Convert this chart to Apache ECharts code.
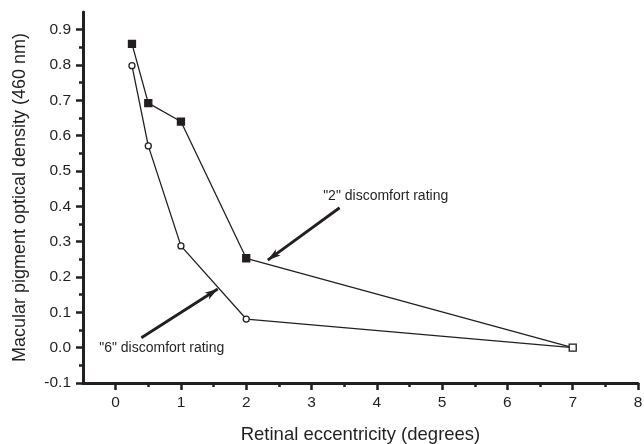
<!DOCTYPE html>
<html>
<head>
<meta charset="utf-8">
<script src="https://cdn.jsdelivr.net/npm/echarts@6/dist/echarts.min.js"></script>
<style>
  html, body { margin: 0; padding: 0; background: #fff; }
  #chart { width: 644px; height: 444px; }
</style>
</head>
<body>
<div id="chart"></div>
<script>
// eccentricity (degrees)
const eccentricity = [0.25, 0.5, 1, 2, 7]
// optical density for the two ratings
const rating2 = [0.86, 0.692, 0.64, 0.253, 0.0]
const rating6 = [0.798, 0.571, 0.288, 0.081, 0.0]

const xMajorTicks = [0, 1, 2, 3, 4, 5, 6, 7, 8]
const xMinorTicks = [0.5, 1.5, 2.5, 3.5, 4.5, 5.5, 6.5, 7.5]
const yMajorTicks = [-0.1, 0, 0.1, 0.2, 0.3, 0.4, 0.5, 0.6, 0.7, 0.8, 0.9]
const yMinorTicks = [-0.05, 0.05, 0.15, 0.25, 0.35, 0.45, 0.55, 0.65, 0.75, 0.85]

// annotation arrows, [tail, head] in data units
const arrow2 = [[3.43, 0.396], [2.33, 0.248]]
const arrow6 = [[0.394, 0.028], [1.563, 0.166]]

const ink = '#231f20'
const font = 'Liberation Sans'

const chart = echarts.init(document.getElementById('chart'), null, { renderer: 'canvas' })

const toPairs = ys => eccentricity.map((x, i) => [x, ys[i]])

const axisLine = { show: true, onZero: false, lineStyle: { color: ink, width: 3 } }
const hiddenLine = { show: false, onZero: false }

// little text label anchored at a data position
const note = (text, coord) => ({
  silent: true,
  symbol: 'circle',
  symbolSize: 1,
  itemStyle: { color: 'rgba(0,0,0,0)' },
  label: {
    show: true,
    position: 'right',
    distance: 0,
    color: ink,
    fontSize: 14,
    fontFamily: font,
    formatter: text,
  },
  data: [{ coord }],
})

const arrow = pts => ({
  silent: true,
  symbol: ['none', 'arrow'],
  symbolSize: [6, 13],
  lineStyle: { color: ink, width: 2.8, type: 'solid' },
  label: { show: false },
  data: [[{ coord: pts[0] }, { coord: pts[1] }]],
})

const option = {
  backgroundColor: '#fff',
  animation: false,
  textStyle: { fontFamily: font },
  grid: { left: 83, right: 6, top: 12, bottom: 61, containLabel: false, outerBoundsMode: 'none' },
  xAxis: [
    {
      type: 'value',
      min: -0.5,
      max: 8,
      name: 'Retinal eccentricity (degrees)',
      nameLocation: 'middle',
      nameGap: 42,
      nameTextStyle: { color: ink, fontSize: 18.5, fontFamily: font },
      axisLine,
      axisTick: { show: true, inside: false, customValues: xMajorTicks, length: 7, lineStyle: { color: ink, width: 2.5 } },
      axisLabel: { customValues: xMajorTicks, color: ink, fontSize: 15.5, fontFamily: font, margin: 12 },
      splitLine: { show: false },
    },
    {
      type: 'value',
      min: -0.5,
      max: 8,
      position: 'bottom',
      offset: 0,
      axisLine: hiddenLine,
      axisTick: { show: true, inside: false, customValues: xMinorTicks, length: 4, lineStyle: { color: ink, width: 2.5 } },
      axisLabel: { show: false },
      splitLine: { show: false },
    },
  ],
  yAxis: [
    {
      type: 'value',
      min: -0.1,
      max: 0.95,
      name: 'Macular pigment optical density (460 nm)',
      nameLocation: 'middle',
      nameGap: 54,
      nameTextStyle: { color: ink, fontSize: 18, fontFamily: font },
      axisLine,
      axisTick: { show: true, inside: false, customValues: yMajorTicks, length: 7, lineStyle: { color: ink, width: 2.5 } },
      axisLabel: {
        customValues: yMajorTicks,
        color: ink,
        fontSize: 15.5,
        fontFamily: font,
        margin: 12,
        formatter: v => v.toFixed(1),
      },
      splitLine: { show: false },
    },
    {
      type: 'value',
      min: -0.1,
      max: 0.95,
      position: 'left',
      offset: 0,
      axisLine: hiddenLine,
      axisTick: { show: true, inside: false, customValues: yMinorTicks, length: 4, lineStyle: { color: ink, width: 2.5 } },
      axisLabel: { show: false },
      splitLine: { show: false },
    },
  ],
  series: [
    {
      name: '"6" discomfort rating',
      type: 'line',
      data: toPairs(rating6),
      symbol: 'circle',
      symbolSize: 6,
      lineStyle: { color: ink, width: 1.3 },
      itemStyle: { color: '#fff', borderColor: ink, borderWidth: 1.3 },
      z: 3,
      markLine: arrow(arrow6),
      markPoint: note('"6" discomfort rating', [-0.26, 0.0]),
    },
    {
      name: '"2" discomfort rating',
      type: 'line',
      data: toPairs(rating2).map((p, i) =>
        i === eccentricity.length - 1
          ? { value: p, itemStyle: { color: '#fff' } }
          : p
      ),
      symbol: 'rect',
      symbolSize: 7,
      lineStyle: { color: ink, width: 1.3 },
      itemStyle: { color: ink, borderColor: ink, borderWidth: 1.3 },
      z: 4,
      markLine: arrow(arrow2),
      markPoint: note('"2" discomfort rating', [3.17, 0.43]),
    },
  ],
}

chart.setOption(option)
</script>
</body>
</html>
